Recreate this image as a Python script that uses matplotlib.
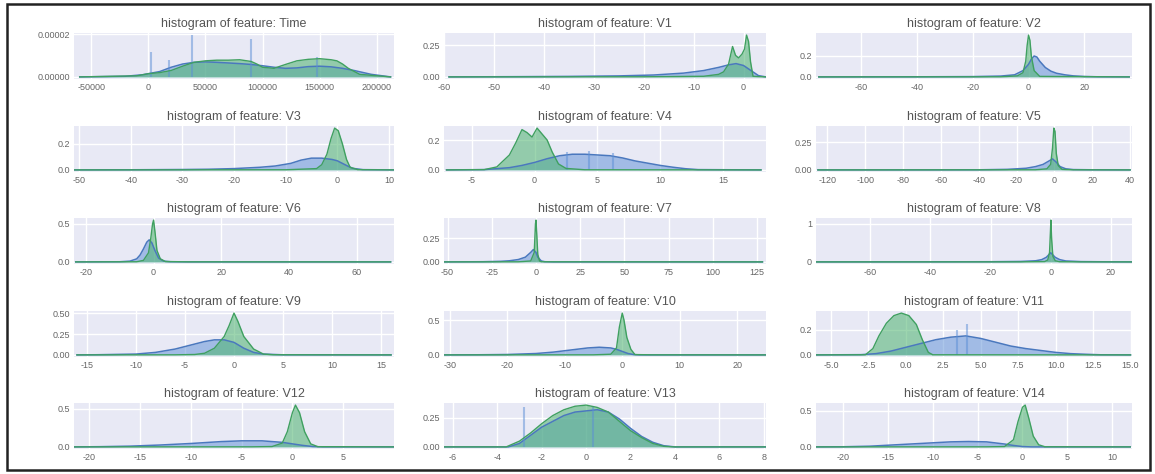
import matplotlib
matplotlib.use("Agg")
import matplotlib.pyplot as plt
from matplotlib.patches import Rectangle

plt.rcParams['font.family'] = ['Liberation Sans', 'DejaVu Sans']

# feature names, row by row
features = ["Time", "V1", "V2", "V3", "V4", "V5", "V6", "V7", "V8",
            "V9", "V10", "V11", "V12", "V13", "V14"]

# blue = fraud (class 1), green = normal (class 0); density values
time_bx = [-60000, -20000, -5000, 10000, 20000, 30000, 40000, 50000, 60000, 70000, 80000,
           90000, 100000, 110000, 120000, 130000, 140000, 150000, 160000, 170000, 180000,
           195000, 212000]
time_b = [0, 3e-7, 1e-6, 2.5e-6, 4.5e-6, 6e-6, 6.8e-6, 7e-6, 6.8e-6, 6.5e-6, 6.2e-6,
          5.8e-6, 5.2e-6, 4.5e-6, 4e-6, 4.2e-6, 4.8e-6, 5e-6, 4.7e-6, 4e-6, 3e-6,
          1.2e-6, 0]
time_gx = [-60000, -10000, 0, 10000, 20000, 30000, 40000, 50000, 60000, 70000, 80000,
           90000, 95000, 100000, 110000, 120000, 130000, 140000, 150000, 160000, 165000,
           170000, 175000, 185000, 212000]
time_g = [0, 5e-7, 1.5e-6, 2e-6, 3e-6, 5e-6, 6.8e-6, 7.5e-6, 7.8e-6, 7.8e-6, 8e-6,
          7.2e-6, 6e-6, 4.5e-6, 4e-6, 5.8e-6, 7.5e-6, 8.2e-6, 8.5e-6, 8e-6, 7.5e-6,
          6e-6, 4e-6, 1.2e-6, 0]
time_spike_x = [2000, 18000, 38000, 90000, 148000]
time_spike_h = [1.15e-5, 8e-6, 1.95e-5, 1.75e-5, 9.5e-6]

v1_bx = [-59, -45, -35, -25, -18, -12, -8, -5, -3, -1.5, 0, 1.5, 3, 4.5]
v1_b = [0, 0.002, 0.004, 0.008, 0.015, 0.03, 0.05, 0.075, 0.095, 0.105, 0.09, 0.05, 0.01, 0]
v1_gx = [-59, -20, -8, -5, -4, -3, -2.2, -1.6, -1, -0.3, 0.2, 0.6, 1.0, 1.4, 1.9, 4.5]
v1_g = [0, 0.001, 0.005, 0.02, 0.04, 0.1, 0.24, 0.17, 0.15, 0.18, 0.22, 0.33, 0.28, 0.12, 0.005, 0]

v2_bx = [-75, -40, -20, -10, -5, -2, 0, 1, 2, 3, 4, 6, 8, 10, 13, 16, 20, 25, 36]
v2_b = [0, 0.001, 0.003, 0.008, 0.02, 0.06, 0.12, 0.17, 0.2, 0.19, 0.15, 0.09, 0.055,
        0.035, 0.02, 0.01, 0.004, 0.001, 0]
v2_gx = [-75, -10, -4, -2, -1, -0.5, 0, 0.5, 1, 2, 4, 36]
v2_g = [0, 0.001, 0.01, 0.04, 0.15, 0.3, 0.4, 0.35, 0.2, 0.06, 0.005, 0]

v3_bx = [-51, -40, -30, -25, -20, -15, -12, -9, -7, -5, -3, -1, 0, 1, 2, 3, 5, 11]
v3_b = [0, 0.001, 0.003, 0.005, 0.01, 0.02, 0.03, 0.05, 0.075, 0.09, 0.09, 0.08, 0.07,
        0.05, 0.03, 0.012, 0.002, 0]
v3_gx = [-51, -10, -4, -3, -2, -1.2, -0.5, 0.2, 1, 1.8, 2.5, 4, 11]
v3_g = [0, 0.001, 0.01, 0.04, 0.12, 0.24, 0.32, 0.3, 0.2, 0.08, 0.02, 0.002, 0]

v4_bx = [-7, -4, -2, -1, 0, 1, 2, 3, 4, 5, 6, 7, 8, 9, 10, 11, 12, 13, 18]
v4_b = [0, 0.002, 0.015, 0.03, 0.05, 0.075, 0.095, 0.105, 0.105, 0.1, 0.095, 0.08,
        0.06, 0.045, 0.03, 0.018, 0.008, 0.002, 0]
v4_gx = [-7, -4, -3, -2, -1.5, -1, -0.6, -0.2, 0.2, 0.6, 1.0, 1.4, 1.9, 2.5, 4, 18]
v4_g = [0, 0.002, 0.02, 0.1, 0.18, 0.27, 0.25, 0.22, 0.28, 0.24, 0.2, 0.12, 0.04, 0.01, 0.001, 0]
v4_spike_x = [2.6, 4.3, 6.2]
v4_spike_h = [0.12, 0.125, 0.115]

v5_bx = [-125, -60, -40, -25, -15, -10, -6, -3, -1, 1, 3, 6, 10, 20, 40]
v5_b = [0, 0.0005, 0.001, 0.005, 0.015, 0.03, 0.05, 0.08, 0.1, 0.07, 0.03, 0.01, 0.003, 0.001, 0]
v5_gx = [-125, -10, -4, -2, -1, -0.3, 0.3, 1, 2, 4, 10, 40]
v5_g = [0, 0.001, 0.01, 0.05, 0.2, 0.38, 0.35, 0.15, 0.04, 0.005, 0.001, 0]

v6_bx = [-23, -10, -7, -5, -4, -3, -2, -1.3, -0.5, 0.5, 1.5, 3, 5, 10, 70]
v6_b = [0, 0.002, 0.01, 0.04, 0.09, 0.17, 0.26, 0.29, 0.25, 0.14, 0.05, 0.01, 0.002, 0, 0]
v6_gx = [-23, -5, -3, -1.5, -0.8, -0.3, 0, 0.4, 1, 2, 3.5, 10, 70]
v6_g = [0, 0.002, 0.02, 0.12, 0.32, 0.5, 0.55, 0.4, 0.15, 0.04, 0.005, 0.001, 0]

v7_bx = [-52, -30, -20, -15, -10, -6, -3, -1.5, 0, 1, 3, 5, 10, 128]
v7_b = [0, 0.002, 0.006, 0.012, 0.025, 0.05, 0.1, 0.13, 0.1, 0.05, 0.01, 0.002, 0, 0]
v7_gx = [-52, -10, -3, -1, -0.3, 0, 0.4, 1, 2, 3, 10, 128]
v7_g = [0, 0.001, 0.01, 0.1, 0.4, 0.44, 0.3, 0.08, 0.01, 0.002, 0.001, 0]

v8_bx = [-78, -40, -20, -10, -5, -3, -1.5, -0.5, 0, 0.5, 1.5, 3, 5, 10, 20, 27]
v8_b = [0, 0.002, 0.005, 0.012, 0.03, 0.06, 0.12, 0.2, 0.24, 0.2, 0.12, 0.06, 0.025,
        0.008, 0.002, 0]
v8_gx = [-78, -10, -2, -1, -0.4, -0.1, 0.05, 0.3, 0.7, 1.5, 3, 10, 27]
v8_g = [0, 0.001, 0.01, 0.05, 0.25, 0.8, 1.1, 0.6, 0.15, 0.03, 0.005, 0.001, 0]

v9_bx = [-16, -14, -10, -8, -6, -4, -3, -2, -1, 0, 1, 2, 3, 5, 16]
v9_b = [0, 0.002, 0.01, 0.03, 0.07, 0.13, 0.16, 0.18, 0.18, 0.15, 0.08, 0.03, 0.01, 0.001, 0]
v9_gx = [-16, -6, -4, -3, -2, -1, -0.5, 0, 0.4, 1, 2, 3, 4, 8, 16]
v9_g = [0, 0.001, 0.005, 0.02, 0.08, 0.22, 0.35, 0.5, 0.4, 0.22, 0.07, 0.01, 0.002, 0.001, 0]

v10_bx = [-31, -25, -20, -15, -12, -9, -6, -4, -2, -1, 0, 1, 2, 3, 25]
v10_b = [0, 0.002, 0.006, 0.02, 0.04, 0.07, 0.1, 0.11, 0.1, 0.08, 0.05, 0.02, 0.005, 0, 0]
v10_gx = [-31, -5, -2, -1, -0.5, 0, 0.3, 0.8, 1.5, 2.2, 5, 25]
v10_g = [0, 0.001, 0.01, 0.1, 0.4, 0.6, 0.5, 0.25, 0.08, 0.005, 0.001, 0]

v11_bx = [-6, -3, -2, -1, 0, 1, 2, 3, 4, 5, 6, 7, 8, 9, 10, 11, 12, 13, 15]
v11_b = [0, 0.002, 0.01, 0.03, 0.06, 0.09, 0.12, 0.14, 0.15, 0.13, 0.1, 0.07, 0.05,
         0.035, 0.02, 0.01, 0.005, 0.001, 0]
v11_gx = [-6, -2.7, -2.2, -1.8, -1.3, -0.8, -0.3, 0.2, 0.7, 1.1, 1.5, 1.8, 15]
v11_g = [0, 0.001, 0.05, 0.15, 0.25, 0.31, 0.33, 0.31, 0.24, 0.12, 0.02, 0.001, 0]
v11_spike_x = [3.4, 4.1]
v11_spike_h = [0.2, 0.24]

v12_bx = [-21.5, -19, -16, -13, -10, -7, -5, -3, -1, 0, 1, 2, 3, 10]
v12_b = [0, 0.003, 0.01, 0.025, 0.045, 0.07, 0.08, 0.08, 0.06, 0.04, 0.02, 0.005, 0, 0]
v12_gx = [-21.5, -4, -2, -1, -0.5, 0, 0.3, 0.7, 1.2, 1.8, 2.5, 10]
v12_g = [0, 0.001, 0.005, 0.05, 0.2, 0.45, 0.55, 0.45, 0.2, 0.04, 0.003, 0]

v13_bx = [-6.4, -3.5, -3, -2.5, -2, -1.5, -1, -0.5, 0, 0.5, 1, 1.5, 2, 2.5, 3, 3.5, 4, 8.1]
v13_b = [0, 0, 0.03, 0.1, 0.17, 0.22, 0.27, 0.3, 0.31, 0.32, 0.3, 0.24, 0.16, 0.09,
         0.04, 0.01, 0, 0]
v13_gx = [-6.4, -3.6, -3, -2.5, -2, -1.5, -1, -0.5, 0, 0.5, 1, 1.5, 2, 2.5, 3, 3.5, 4, 8.1]
v13_g = [0, 0, 0.05, 0.12, 0.2, 0.27, 0.32, 0.35, 0.36, 0.34, 0.3, 0.22, 0.14, 0.08,
         0.03, 0.005, 0, 0]
v13_spike_x = [-2.8, 0.3]
v13_spike_h = [0.34, 0.35]

v14_bx = [-23, -20, -17, -14, -11, -8, -6, -4, -2, -1, 0, 1, 12]
v14_b = [0, 0.002, 0.01, 0.03, 0.05, 0.07, 0.075, 0.07, 0.04, 0.02, 0.005, 0, 0]
v14_gx = [-23, -4, -2, -1, -0.5, 0, 0.3, 0.7, 1.2, 1.8, 2.5, 12]
v14_g = [0, 0.001, 0.005, 0.1, 0.35, 0.55, 0.58, 0.4, 0.15, 0.03, 0.002, 0]

# axis ticks and labels
xticks = [
    [-50000, 0, 50000, 100000, 150000, 200000],
    [-60, -50, -40, -30, -20, -10, 0],
    [-60, -40, -20, 0, 20],
    [-50, -40, -30, -20, -10, 0, 10],
    [-5, 0, 5, 10, 15],
    [-120, -100, -80, -60, -40, -20, 0, 20, 40],
    [-20, 0, 20, 40, 60],
    [-50, -25, 0, 25, 50, 75, 100, 125],
    [-60, -40, -20, 0, 20],
    [-15, -10, -5, 0, 5, 10, 15],
    [-30, -20, -10, 0, 10, 20],
    [-5.0, -2.5, 0.0, 2.5, 5.0, 7.5, 10.0, 12.5, 15.0],
    [-20, -15, -10, -5, 0, 5],
    [-6, -4, -2, 0, 2, 4, 6, 8],
    [-20, -15, -10, -5, 0, 5, 10],
]
xlims = [(-65000, 215000), (-59, 4.5), (-76, 37), (-51, 11), (-7.2, 18.4),
         (-126, 41), (-23.5, 71), (-52, 130), (-78, 27), (-16.3, 16.3),
         (-31, 25), (-6, 15.1), (-21.5, 10), (-6.4, 8.1), (-23, 12.2)]
yticks = [[0, 0.00002], [0, 0.25], [0, 0.2], [0, 0.2], [0, 0.2], [0, 0.25],
          [0, 0.5], [0, 0.25], [0, 1], [0, 0.25, 0.5], [0, 0.5], [0, 0.2],
          [0, 0.5], [0, 0.25], [0, 0.5]]
yfmt = ["%.5f", "%.2f", "%.1f", "%.1f", "%.1f", "%.2f", "%.1f", "%.2f", "%.0f",
        "%.2f", "%.1f", "%.1f", "%.1f", "%.2f", "%.1f"]

fraud = [(time_bx, time_b), (v1_bx, v1_b), (v2_bx, v2_b), (v3_bx, v3_b), (v4_bx, v4_b),
         (v5_bx, v5_b), (v6_bx, v6_b), (v7_bx, v7_b), (v8_bx, v8_b), (v9_bx, v9_b),
         (v10_bx, v10_b), (v11_bx, v11_b), (v12_bx, v12_b), (v13_bx, v13_b), (v14_bx, v14_b)]
normal = [(time_gx, time_g), (v1_gx, v1_g), (v2_gx, v2_g), (v3_gx, v3_g), (v4_gx, v4_g),
          (v5_gx, v5_g), (v6_gx, v6_g), (v7_gx, v7_g), (v8_gx, v8_g), (v9_gx, v9_g),
          (v10_gx, v10_g), (v11_gx, v11_g), (v12_gx, v12_g), (v13_gx, v13_g), (v14_gx, v14_g)]
spikes = {0: (time_spike_x, time_spike_h), 4: (v4_spike_x, v4_spike_h),
          11: (v11_spike_x, v11_spike_h), 13: (v13_spike_x, v13_spike_h)}

BLUE = '#5B8FD6'
BLUE_LINE = '#4A78BE'
GREEN = '#4DB46E'
GREEN_LINE = '#3FA060'

W, H = 1155, 474
fig = plt.figure(figsize=(W / 100, H / 100), dpi=100)

col_left = [74, 444, 816]
col_w = [320, 322, 316]
row_top = [33, 126, 218, 311, 403]
row_h = 46

for i, name in enumerate(features):
    r, c = divmod(i, 3)
    ax = fig.add_axes([col_left[c] / W, 1 - (row_top[r] + row_h) / H,
                       col_w[c] / W, row_h / H])
    ax.set_facecolor('#E8E9F5')
    ax.grid(True, color='white', lw=1.0)
    ax.set_axisbelow(True)
    for s in ax.spines.values():
        s.set_visible(False)

    bx, by = fraud[i]
    gx, gy = normal[i]
    ax.fill_between(bx, by, color=BLUE, alpha=0.5, lw=0)
    ax.plot(bx, by, color=BLUE_LINE, lw=1.1)
    if i in spikes:
        sx, sh = spikes[i]
        ax.vlines(sx, 0, sh, color=BLUE, lw=1.5, alpha=0.5)
    ax.fill_between(gx, gy, color=GREEN, alpha=0.55, lw=0)
    ax.plot(gx, gy, color=GREEN_LINE, lw=1.0)

    ax.set_xlim(*xlims[i])
    ax.set_xticks(xticks[i])
    if i == 11:
        ax.set_xticklabels(["%.1f" % t for t in xticks[i]])
    else:
        ax.set_xticklabels(["%d" % t for t in xticks[i]])
    ax.set_yticks(yticks[i])
    ax.set_yticklabels([yfmt[i] % t for t in yticks[i]])
    ax.tick_params(length=0, labelsize=6.5, colors='#666666', pad=3)
    ax.set_title("histogram of feature: " + name, fontsize=9, color='#555555', pad=4)

fig.add_artist(Rectangle((7 / W, 4 / H), (1150 - 7) / W, (470 - 4) / H,
                         transform=fig.transFigure, fill=False, lw=1.8, ec='#222222'))

fig.savefig("out.png", dpi=100, facecolor='white')
